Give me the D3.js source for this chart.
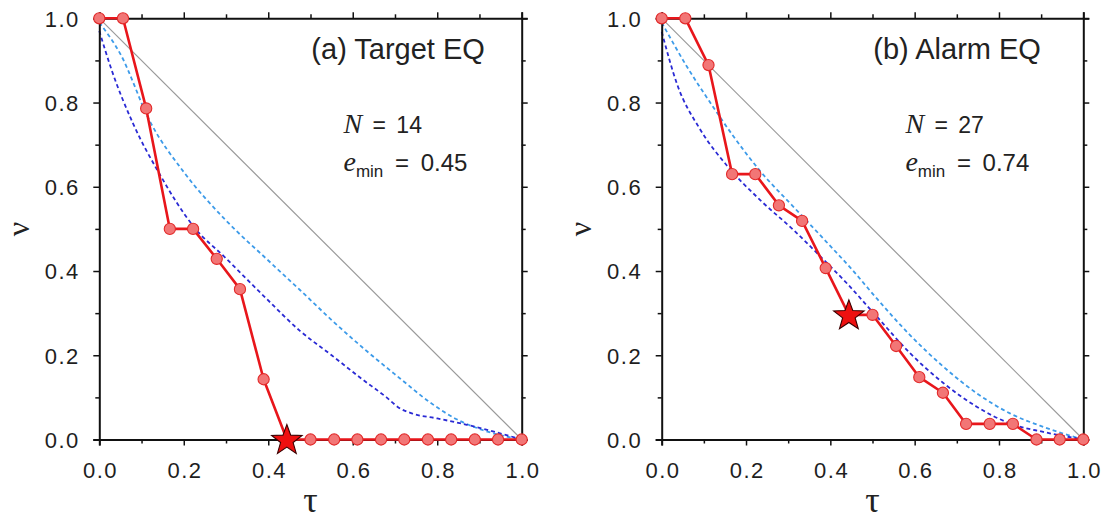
<!DOCTYPE html>
<html><head><meta charset="utf-8">
<script src="https://cdn.jsdelivr.net/npm/d3@7"></script>
<style>body{margin:0;background:#fff}svg{display:block}</style>
</head><body><svg id="c" width="1110" height="522"></svg>
<script>
// ---- data ----
const tau = [0, 0.056, 0.111, 0.167, 0.222, 0.278, 0.333, 0.389, 0.444, 0.5, 0.556, 0.611, 0.667, 0.722, 0.778, 0.833, 0.889, 0.944, 1.0];
const nuTarget = [1, 1, 0.786, 0.5, 0.5, 0.429, 0.357, 0.143, 0, 0, 0, 0, 0, 0, 0, 0, 0, 0, 0];
const nuAlarm  = [1, 1, 0.889, 0.630, 0.630, 0.556, 0.519, 0.407, 0.296, 0.296, 0.222, 0.148, 0.111, 0.037, 0.037, 0.037, 0, 0, 0];
const starIndex = 8;
const panelTitles = ["(a) Target EQ", "(b) Alarm EQ"];
const nValues = ["14", "27"];
const eminValues = ["0.45", "0.74"];
const lightTarget = [[0,0.99],[0.05,0.915],[0.12,0.755],[0.2,0.635],[0.3,0.52],[0.4,0.425],[0.475,0.355],[0.554,0.28],[0.633,0.21],[0.712,0.145],[0.783,0.088],[0.846,0.048],[0.909,0.022],[1,0]];
const darkTarget  = [[0,0.97],[0.03,0.875],[0.08,0.75],[0.144,0.628],[0.222,0.507],[0.30,0.43],[0.39,0.34],[0.475,0.258],[0.55,0.2],[0.62,0.145],[0.68,0.1],[0.71,0.075],[0.74,0.062],[0.8,0.05],[0.87,0.035],[0.94,0.017],[1,0]];
const lightAlarm  = [[0,0.99],[0.06,0.885],[0.115,0.80],[0.17,0.72],[0.233,0.638],[0.312,0.553],[0.39,0.47],[0.45,0.405],[0.51,0.335],[0.589,0.248],[0.668,0.173],[0.747,0.11],[0.826,0.062],[0.905,0.03],[1,0]];
const darkAlarm   = [[0,0.968],[0.036,0.845],[0.092,0.735],[0.155,0.65],[0.233,0.569],[0.312,0.498],[0.384,0.427],[0.44,0.37],[0.51,0.292],[0.589,0.205],[0.668,0.134],[0.747,0.078],[0.826,0.038],[0.905,0.018],[1,0]];
const majorTicks = [0, 0.2, 0.4, 0.6, 0.8, 1.0];
const minorTicks = [0.1, 0.3, 0.5, 0.7, 0.9];

const panels = [
  {nu: nuTarget, light: lightTarget, dark: darkTarget, title: panelTitles[0], n: nValues[0], e: eminValues[0], left: 99.3, right: 521.7},
  {nu: nuAlarm,  light: lightAlarm,  dark: darkAlarm,  title: panelTitles[1], n: nValues[1], e: eminValues[1], left: 661.7, right: 1083.3}
];
const plotTop = 18.3, plotBottom = 439.5;
const svg = d3.select("#c");
const sans = "'Liberation Sans', Arial, Helvetica, sans-serif";
const serif = "'Liberation Serif', 'Times New Roman', Times, serif";

function starPath(R, r) {
  const pts = [];
  for (let i = 0; i < 10; i++) {
    const a = -Math.PI / 2 + i * Math.PI / 5;
    const rad = i % 2 ? r : R;
    pts.push([rad * Math.cos(a), rad * Math.sin(a)]);
  }
  return "M" + pts.map(p => p.join(",")).join("L") + "Z";
}

panels.forEach(p => {
  const x = d3.scaleLinear().domain([0, 1]).range([p.left, p.right]);
  const y = d3.scaleLinear().domain([0, 1]).range([plotBottom, plotTop]);
  const g = svg.append("g");

  // diagonal
  g.append("line").attr("x1", x(0)).attr("y1", y(1)).attr("x2", x(1)).attr("y2", y(0))
    .attr("stroke", "#9a9a9a").attr("stroke-width", 1.2);

  const smooth = d3.line().x(d => x(d[0])).y(d => y(d[1])).curve(d3.curveMonotoneX);
  const line = d3.line().x(d => x(d[0])).y(d => y(d[1]));
  g.append("path").attr("d", smooth(p.light)).attr("fill", "none")
    .attr("stroke", "#3d9be9").attr("stroke-width", 1.8).attr("stroke-dasharray", "4,3");
  g.append("path").attr("d", smooth(p.dark)).attr("fill", "none")
    .attr("stroke", "#2a2ad4").attr("stroke-width", 1.8).attr("stroke-dasharray", "4,3");

  // axes
  const axStyle = sel => {
    sel.select(".domain").attr("stroke", "#111").attr("stroke-width", 2);
    sel.selectAll(".tick line").attr("stroke", "#111").attr("stroke-width", 1.5);
    sel.selectAll("text").attr("font-family", sans).attr("font-size", 22)
      .style("letter-spacing", "1.5px").attr("fill", "#1e1e1e");
  };
  const fmt = d3.format(".1f");
  g.append("g").attr("transform", `translate(0,${plotBottom})`)
    .call(d3.axisBottom(x).tickValues(majorTicks).tickSize(6).tickPadding(17).tickFormat(fmt))
    .call(axStyle).call(s => s.selectAll("text").attr("dx", 0.75));
  g.append("g").attr("transform", `translate(0,${plotBottom})`)
    .call(d3.axisBottom(x).tickValues(minorTicks).tickSize(4).tickFormat(""))
    .call(axStyle).call(s => s.select(".domain").remove());
  g.append("g").attr("transform", `translate(${p.left},0)`)
    .call(d3.axisLeft(y).tickValues(majorTicks).tickSize(6).tickPadding(13.5).tickFormat(fmt))
    .call(axStyle).call(s => s.selectAll("text").attr("dy", "0.36em"));
  g.append("g").attr("transform", `translate(${p.left},0)`)
    .call(d3.axisLeft(y).tickValues(minorTicks).tickSize(4).tickFormat(""))
    .call(axStyle).call(s => s.select(".domain").remove());
  g.append("g").attr("transform", `translate(0,${plotTop})`)
    .call(d3.axisTop(x).tickValues(majorTicks).tickSize(6).tickFormat(""))
    .call(axStyle);
  g.append("g").attr("transform", `translate(0,${plotTop})`)
    .call(d3.axisTop(x).tickValues(minorTicks).tickSize(4).tickFormat(""))
    .call(axStyle).call(s => s.select(".domain").remove());
  g.append("g").attr("transform", `translate(${p.right},0)`)
    .call(d3.axisRight(y).tickValues(majorTicks).tickSize(6).tickFormat(""))
    .call(axStyle);
  g.append("g").attr("transform", `translate(${p.right},0)`)
    .call(d3.axisRight(y).tickValues(minorTicks).tickSize(4).tickFormat(""))
    .call(axStyle).call(s => s.select(".domain").remove());

  // red curve
  const pts = tau.map((t, i) => [t, p.nu[i]]);
  g.append("path").attr("d", line(pts)).attr("fill", "none")
    .attr("stroke", "#e8161b").attr("stroke-width", 2.6).attr("stroke-linejoin", "round");
  g.selectAll("circle.pt").data(pts.filter((d, i) => i !== starIndex)).enter().append("circle")
    .attr("cx", d => x(d[0])).attr("cy", d => y(d[1])).attr("r", 5.6)
    .attr("fill", "#f27676").attr("stroke", "#e22a2a").attr("stroke-width", 1.1);
  g.append("path").attr("d", starPath(16, 6.6))
    .attr("transform", `translate(${x(pts[starIndex][0])},${y(pts[starIndex][1]) + 1})`)
    .attr("fill", "#ee1010").attr("stroke", "#3a0000").attr("stroke-width", 1.1);

  // texts
  g.append("text").attr("x", x(0.502)).attr("y", 58.5).attr("font-family", sans)
    .attr("font-size", 29).attr("fill", "#222").text(p.title);
  const tN = g.append("text").attr("x", x(0.578)).attr("y", 132.5).attr("fill", "#222")
    .style("word-spacing", "4px");
  tN.append("tspan").attr("font-family", serif).attr("font-style", "italic").attr("font-size", 28).text("N");
  tN.append("tspan").attr("font-family", sans).attr("font-size", 23).text(" = " + p.n);
  const tE = g.append("text").attr("x", x(0.578)).attr("y", 171).attr("fill", "#222")
    .style("word-spacing", "5px");
  tE.append("tspan").attr("font-family", serif).attr("font-style", "italic").attr("font-size", 28).text("e");
  tE.append("tspan").attr("font-family", sans).attr("font-size", 17).attr("dy", 6).text("min");
  tE.append("tspan").attr("font-family", sans).attr("font-size", 24).attr("dy", -6).text(" = " + p.e);

  // axis titles
  g.append("text").attr("transform", `translate(${p.left - 78},${(plotTop + plotBottom) / 2}) rotate(-90)`)
    .attr("text-anchor", "middle").attr("dy", "0.23em").attr("font-family", serif).attr("font-size", 32)
    .attr("fill", "#222").text("ν");
  g.append("text").attr("x", (p.left + p.right) / 2).attr("y", 512).attr("text-anchor", "middle")
    .attr("font-family", serif).attr("font-size", 36).attr("fill", "#222").text("τ");
});
</script></body></html>
